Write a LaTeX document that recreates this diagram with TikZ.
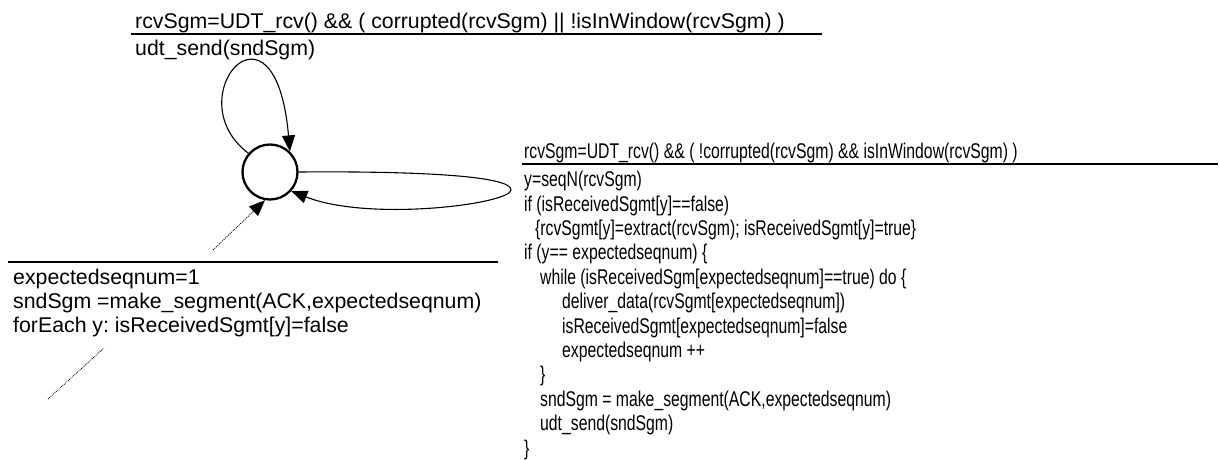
\documentclass[tikz,border=0pt]{standalone}
\usepackage{fontspec}
\setmainfont{Liberation Sans}
\newfontfamily\narrowfont[FakeStretch=0.74]{Liberation Sans}
\usetikzlibrary{arrows.meta}
\frenchspacing

\begin{document}
\begin{tikzpicture}[x=1pt,y=-1pt]
		\tikzstyle{state}=[circle,draw,line width=2.3pt,minimum size=55pt,inner sep=0pt]
		\tikzstyle{txt}=[inner sep=0pt,align=left,font=\fontsize{21.3}{24}\selectfont]
		\tikzstyle{narrow}=[font=\narrowfont\fontsize{21.3}{24.4}\selectfont]
		\tikzstyle{bar}=[line width=1.3pt]
		\tikzstyle{trans}=[line width=1.1pt,-{Triangle[length=16pt,width=13pt]}]

		\useasboundingbox (0,0) rectangle (1219,459);

		\node[state] (s) at (270,172) {};

		% loop: corrupted or out of window
		\node[txt,anchor=base west] (grdA) at (135,28)
			{rcvSgm=UDT\_rcv() \&\& ( corrupted(rcvSgm) || !isInWindow(rcvSgm) )};
		\draw[bar] (131,34) -- (822,34);
		\node[txt,anchor=base west] (actA) at (135,55) {udt\_send(sndSgm)};
		\draw[trans] (s.139) .. controls (175,98) and (275,-18) .. (s.46);

		% loop: good segment in window
		\node[txt,narrow,anchor=base west] (grdB) at (524,158)
			{rcvSgm=UDT\_rcv() \&\& ( !corrupted(rcvSgm) \&\& isInWindow(rcvSgm) )};
		\draw[bar] (522,164) -- (1218,164);
		\node[txt,narrow,anchor=north west] (actB) at (524,171) {
			y=seqN(rcvSgm)\\
			if (isReceivedSgmt[y]==false)\\
			\hspace*{11pt}\{rcvSgmt[y]=extract(rcvSgm); isReceivedSgmt[y]=true\}\\
			if (y== expectedseqnum) \{\\
			\hspace*{16pt}while (isReceivedSgm[expectedseqnum]==true) do \{\\
			\hspace*{38pt}deliver\_data(rcvSgmt[expectedseqnum])\\
			\hspace*{38pt}isReceivedSgmt[expectedseqnum]=false\\
			\hspace*{38pt}expectedseqnum ++\\
			\hspace*{16pt}\}\\
			\hspace*{16pt}sndSgm = make\_segment(ACK,expectedseqnum)\\
			\hspace*{16pt}udt\_send(sndSgm)\\
			\}};
		\draw[trans] (s.east) .. controls (420,171) and (512,176) .. (511,190)
			.. controls (510,204) and (370,222) .. (s.-42);

		% initial
		\coordinate (init) at (213,250);
		\draw[trans,densely dotted,line width=0.8pt] (init) -- (s.-100);
		\draw[bar] (8,262) -- (498,262);
		\node[txt,anchor=north west] (actI) at (13,269) {
			expectedseqnum=1\\
			sndSgm =make\_segment(ACK,expectedseqnum)\\
			forEach y: isReceivedSgmt[y]=false};
		\coordinate (d1) at (48,399);
		\coordinate (d2) at (104,348);
		\draw[densely dotted,line width=0.8pt] (d1) -- (d2);
	\end{tikzpicture}
\end{document}
